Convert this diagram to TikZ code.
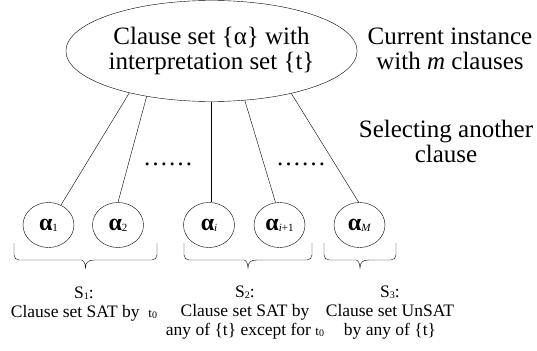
\documentclass[tikz,border=0pt]{standalone}
\usepackage{fontspec}
\setmainfont{Liberation Serif}
\usepackage{tikz}
\usetikzlibrary{shapes.geometric, positioning}

\newcommand{\lowidx}[1]{\raisebox{-1pt}{\fontsize{11}{11}\selectfont #1}}
\newcommand{\tinyidx}[1]{\raisebox{-1pt}{\fontsize{10}{10}\selectfont #1}}
% group brace: left x, tip x, right x
\newcommand{\grpbrace}[3]{%
  \draw (#1,243) [rounded corners=5pt] -- (#1,260) -- (#2-9,260) [sharp corners]
    .. controls (#2-3,260) and (#2,262) .. (#2,268)
    .. controls (#2,262) and (#2+3,260) .. (#2+9,260) [rounded corners=5pt]
    -- (#3,260) -- (#3,243);}

\begin{document}
\begin{tikzpicture}[x=1pt, y=-1pt,
    bigtxt/.style={font=\fontsize{25}{25}\selectfont, align=center},
    smtxt/.style={font=\fontsize{17.5}{19}\selectfont, align=center},
    clause/.style={ellipse, draw, minimum width=51pt, minimum height=45pt, inner sep=0pt,
      font=\fontsize{24}{24}\selectfont}]
  \useasboundingbox (0,0) rectangle (537,350);
  % current instance
  \node[ellipse, draw, minimum width=266pt, minimum height=101pt, inner sep=0pt, bigtxt]
    (inst) at (211.5,51) {Clause set \{α\} with\\interpretation set \{t\}};
  \node[bigtxt] (cur) at (450,49.3) {Current instance\\with \textit{m} clauses};
  \node[bigtxt] (sel) at (446,141.5) {Selecting another\\clause};
  % clauses
  \node[clause] (a1) at (48.5,225) {\textbf{α}\lowidx{1}};
  \node[clause] (a2) at (118,225) {\textbf{α}\lowidx{2}};
  \node[clause] (ai) at (209,225) {\textbf{α}\lowidx{\textit{i}}};
  \node[clause] (ai1) at (279.5,225) {\textbf{α}\lowidx{\textit{i}+1}};
  \node[clause] (am) at (359.5,225) {\textbf{α}\lowidx{\textit{M}}};
  \node[bigtxt] (dots1) at (168,164) {……};
  \node[bigtxt] (dots2) at (301,164) {……};
  \draw (inst.207.7) -- (a1.58.5);
  \draw (inst.215.1) -- (a2.90);
  \draw (inst.south) -- (inst.south |- ai.north);
  \draw (inst.304.8) -- (ai1.100);
  \draw (inst.332.3) -- (am.92);
  % groups
  \grpbrace{14}{85.5}{157}
  \grpbrace{184}{248}{312}
  \grpbrace{324}{360}{396}
  \node[smtxt] (s1) at (84,303.6) {S\tinyidx{1}:\\Clause set SAT by \ {\fontsize{13}{13}\selectfont t}\tinyidx{0}};
  \node[smtxt] (s2) at (245,313) {S\tinyidx{2}:\\Clause set SAT by\\any of \{t\} except for {\fontsize{13}{13}\selectfont t}\tinyidx{0}};
  \node[smtxt] (s3) at (390,313) {S\tinyidx{3}:\\Clause set UnSAT\\by any of \{t\}};
\end{tikzpicture}
\end{document}
